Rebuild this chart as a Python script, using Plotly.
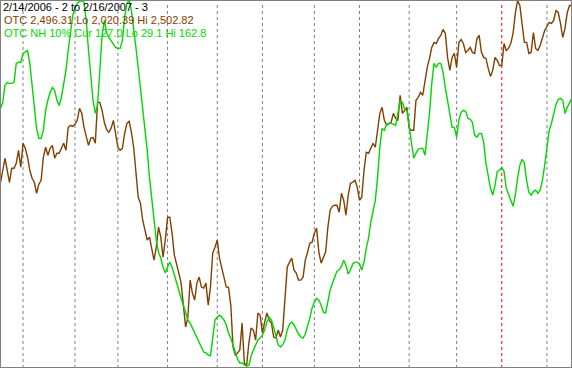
import plotly.graph_objects as go

# ---- header texts ----
title_text = "2/14/2006 - 2 to 2/16/2007 - 3"
otc_label = "OTC 2,496.31 Lo 2,020.39 Hi 2,502.82"
nh_label = "OTC NH 10% Cur 127.0 Lo 29.1 Hi 162.8"

# ---- ranges of each series (each scaled to full height) ----
otc_lo, otc_hi = 2020.39, 2502.82
nh_lo, nh_hi = 29.1, 162.8

# ---- trading-day index of each month start (Mar 2006 .. Feb 2007) ----
month_start_idx = [10, 33, 52, 74, 96, 116, 139, 159, 181, 202, 222, 242]
year_start_idx = 222  # Jan 2007

# ---- OTC (Nasdaq composite) daily closes ----
otc = [
    2261.6, 2278.7, 2294.6, 2278.7, 2262.9, 2281.4, 2281.4, 2288.0, 2305.1, 2282.7,
    2314.3, 2307.7, 2295.9, 2278.7, 2268.2, 2262.9, 2248.4, 2260.3, 2265.6, 2295.9,
    2309.1, 2298.5, 2307.7, 2311.7, 2294.6, 2301.2, 2301.2, 2307.7, 2314.3, 2305.1,
    2335.4, 2338.1, 2336.7, 2339.4, 2344.6, 2360.5, 2353.9, 2335.4, 2324.9, 2311.7,
    2320.9, 2322.2, 2314.3, 2368.4, 2368.4, 2357.8, 2342.0, 2332.8, 2328.8, 2334.1,
    2344.6, 2324.9, 2309.1, 2305.1, 2307.7, 2327.5, 2340.7, 2343.3, 2328.8, 2309.1,
    2278.7, 2243.2, 2235.2, 2212.8, 2199.7, 2186.5, 2190.4, 2173.3, 2160.1, 2177.2,
    2203.6, 2190.4, 2164.1, 2186.5, 2216.8, 2216.8, 2195.7, 2166.7, 2156.2, 2143.0,
    2129.8, 2098.2, 2071.8, 2085.0, 2133.8, 2116.6, 2107.4, 2129.8, 2137.7, 2124.5,
    2123.2, 2129.8, 2100.8, 2124.5, 2169.3, 2177.2, 2186.5, 2162.7, 2150.9, 2137.7,
    2124.5, 2124.5, 2100.8, 2045.4, 2034.9, 2037.5, 2041.5, 2077.1, 2024.3, 2020.39,
    2050.7, 2070.5, 2067.8, 2054.7, 2090.3, 2087.6, 2063.9, 2078.4, 2090.3, 2081.0,
    2077.1, 2058.6, 2057.3, 2067.8, 2058.6, 2067.8, 2116.6, 2150.9, 2157.5, 2162.7,
    2146.9, 2143.0, 2133.8, 2133.8, 2137.7, 2160.1, 2170.7, 2182.5, 2183.8, 2195.7,
    2202.3, 2170.7, 2156.2, 2164.1, 2170.7, 2203.6, 2226.0, 2231.3, 2232.6, 2232.6,
    2223.4, 2248.4, 2239.2, 2219.4, 2245.8, 2261.6, 2262.9, 2265.6, 2256.3, 2239.2,
    2243.2, 2278.7, 2302.5, 2301.2, 2309.1, 2314.3, 2309.1, 2335.4, 2353.9, 2361.8,
    2344.6, 2338.1, 2340.7, 2342.0, 2353.9, 2347.3, 2344.6, 2377.6, 2353.9, 2357.8,
    2361.8, 2334.1, 2331.5, 2331.5, 2371.0, 2375.0, 2381.6, 2377.6, 2397.4, 2414.5,
    2426.4, 2440.9, 2447.5, 2446.1, 2452.7, 2456.7, 2464.6, 2459.3, 2427.7, 2410.6,
    2427.7, 2433.0, 2414.5, 2447.5, 2451.4, 2446.1, 2434.3, 2436.9, 2440.9, 2434.3,
    2433.0, 2452.7, 2456.7, 2434.3, 2427.7, 2426.4, 2413.2, 2402.6, 2410.6, 2427.7,
    2423.7, 2417.1, 2417.1, 2446.1, 2436.9, 2439.6, 2446.1, 2459.3, 2485.7, 2502.82,
    2496.2, 2472.5, 2447.5, 2447.5, 2433.0, 2434.3, 2460.6, 2439.6, 2436.9, 2443.5,
    2452.7, 2463.3, 2468.5, 2473.8, 2472.5, 2476.5, 2489.6, 2487.0, 2472.5, 2454.0,
    2465.9, 2487.0, 2496.2, 2496.31,
]

# ---- OTC new highs 10% ----
nh = [
    123.3, 125.5, 131.8, 132.8, 132.5, 132.5, 132.8, 139.8, 140.2, 140.2,
    143.4, 143.8, 144.5, 139.8, 132.5, 123.7, 116.0, 112.4, 112.4, 115.3,
    122.6, 126.3, 129.2, 131.0, 129.9, 126.3, 124.4, 127.4, 132.5, 137.2,
    144.5, 150.0, 157.3, 160.2, 161.7, 162.4, 162.8, 162.1, 155.5, 144.5,
    133.6, 126.3, 121.5, 124.4, 137.2, 150.0, 155.5, 151.1, 149.3, 148.2,
    147.1, 145.6, 145.3, 145.3, 148.2, 156.6, 161.7, 162.8, 159.1, 152.9,
    145.6, 138.3, 131.0, 122.6, 115.3, 108.0, 98.1, 89.7, 81.3, 75.1,
    70.7, 68.6, 65.3, 63.1, 65.3, 67.1, 65.3, 62.3, 59.8, 56.9,
    53.9, 51.4, 48.5, 45.9, 44.8, 43.0, 41.2, 39.3, 37.5, 35.7,
    34.2, 33.9, 33.1, 32.8, 38.6, 45.9, 47.0, 47.7, 47.0, 45.9,
    44.1, 41.2, 39.3, 36.8, 33.9, 31.7, 30.2, 30.2, 29.5, 29.1,
    29.3, 32.8, 34.9, 36.8, 38.6, 39.3, 40.4, 42.3, 45.2, 47.0,
    45.9, 43.3, 40.4, 36.8, 36.0, 36.8, 38.6, 42.3, 44.4, 45.2,
    44.1, 42.3, 40.8, 39.7, 39.3, 40.8, 43.3, 46.6, 50.3, 52.5,
    53.9, 53.2, 51.4, 48.8, 48.5, 53.2, 56.9, 59.4, 62.0, 63.8,
    64.2, 65.6, 67.8, 66.0, 62.7, 64.2, 66.4, 67.1, 67.1, 66.4,
    64.2, 67.1, 72.2, 75.9, 81.7, 86.1, 89.7, 98.1, 109.1, 116.0,
    115.3, 117.5, 117.9, 117.9, 117.5, 117.1, 121.5, 126.3, 125.5, 123.0,
    122.6, 116.4, 109.8, 105.1, 106.9, 108.4, 108.7, 108.7, 106.2, 112.8,
    121.5, 132.5, 139.8, 138.3, 139.8, 139.8, 136.5, 131.0, 126.3, 120.1,
    116.4, 116.4, 112.8, 119.0, 121.9, 122.6, 122.3, 119.7, 119.3, 118.2,
    113.5, 112.8, 114.2, 114.2, 110.9, 103.3, 98.1, 94.1, 91.6, 95.2,
    100.3, 100.7, 101.8, 100.3, 94.1, 91.6, 89.7, 87.5, 91.6, 97.8,
    102.5, 104.7, 103.3, 97.0, 92.7, 91.6, 93.0, 93.4, 92.3, 93.4,
    97.0, 102.5, 109.8, 115.3, 117.9, 121.9, 124.8, 126.6, 127.0, 126.3,
    121.5, 123.7, 125.5, 127.0,
]

W, H = 572, 368
BROWN = "#804000"
GREEN = "#00d800"
RED = "#ff0000"
GRID = "#808080"

idx = list(range(len(otc)))


def padded(lo, hi):
    k = (hi - lo) / 365.0
    return [lo - 2.0 * k, hi + 0.5 * k]


fig = go.Figure()
fig.add_trace(go.Scatter(x=idx, y=otc, mode="lines", yaxis="y",
                         line=dict(color=BROWN, width=1.4), hoverinfo="skip"))
fig.add_trace(go.Scatter(x=list(range(len(nh))), y=nh, mode="lines", yaxis="y2",
                         line=dict(color=GREEN, width=1.4), hoverinfo="skip"))

shapes = []
for m in month_start_idx:
    shapes.append(dict(type="line", xref="x", yref="paper", x0=m, x1=m, y0=0, y1=0.99,
                       line=dict(color=RED if m == year_start_idx else GRID,
                                 width=1, dash="3px,3px"),
                       layer="below"))
shapes.append(dict(type="rect", xref="paper", yref="paper", x0=0, x1=1, y0=0, y1=1,
                   line=dict(color=GRID, width=2), layer="above"))

n = len(otc)
FONT = "Liberation Sans, Arial"
fig.update_layout(
    width=W, height=H,
    margin=dict(l=0, r=0, t=0, b=0, pad=0),
    paper_bgcolor="white", plot_bgcolor="white",
    showlegend=False,
    xaxis=dict(range=[-0.2, n - 1 + 0.1], visible=False, fixedrange=True),
    yaxis=dict(range=padded(otc_lo, otc_hi), visible=False, fixedrange=True),
    yaxis2=dict(range=padded(nh_lo, nh_hi), visible=False, overlaying="y", fixedrange=True),
    shapes=shapes,
    annotations=[
        dict(text=title_text, xref="paper", yref="paper", x=0.002, y=1.0, yshift=1,
             xanchor="left", yanchor="top", showarrow=False,
             font=dict(family=FONT, size=11, color="black")),
        dict(text=otc_label, xref="paper", yref="paper", x=0.004, y=1.0, yshift=-12,
             xanchor="left", yanchor="top", showarrow=False,
             font=dict(family=FONT, size=11, color=BROWN)),
        dict(text=nh_label, xref="paper", yref="paper", x=0.004, y=1.0, yshift=-25,
             xanchor="left", yanchor="top", showarrow=False,
             font=dict(family=FONT, size=11, color=GREEN)),
    ],
)

fig.write_html("out.html", config={"displayModeBar": False})
